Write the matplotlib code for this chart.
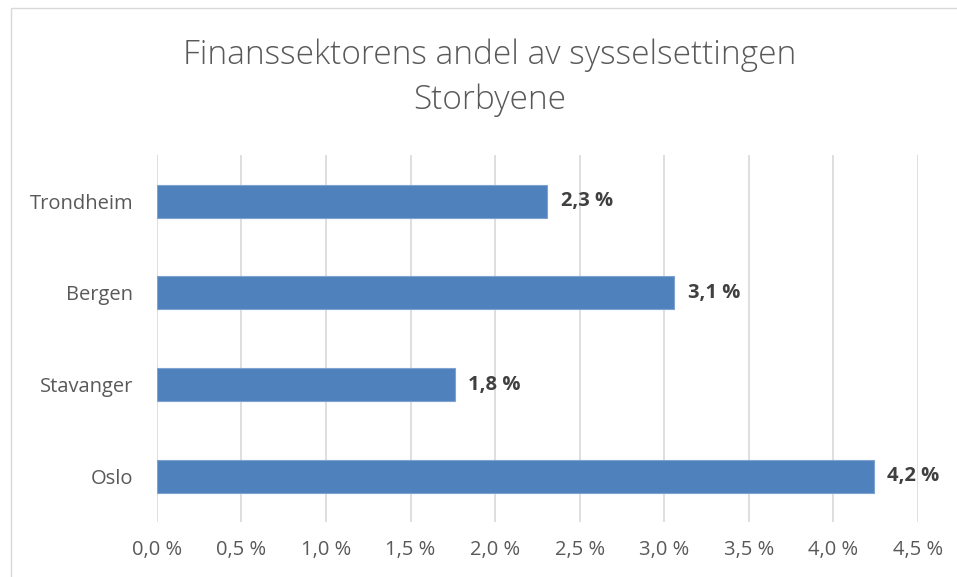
import matplotlib.pyplot as plt
from matplotlib.patches import Rectangle
from matplotlib.ticker import FuncFormatter

# data (bottom to top)
cities = ['Oslo', 'Stavanger', 'Bergen', 'Trondheim']
shares = [4.24, 1.76, 3.06, 2.31]
ticks = [0.0, 0.5, 1.0, 1.5, 2.0, 2.5, 3.0, 3.5, 4.0, 4.5]

plt.rcParams['font.family'] = ['Open Sans', 'DejaVu Sans']

fig = plt.figure(figsize=(9.57, 5.77), dpi=100)
ax = fig.add_axes([0.164, 0.095, 0.795, 0.636])

# light frame round the chart, like the Excel chart area
fig.patches.append(Rectangle((0.011, -0.01), 0.995, 0.996, transform=fig.transFigure,
                             fill=False, edgecolor='#D9D9D9', linewidth=1))

ax.barh(range(len(cities)), shares, height=0.36, color='#4F81BD',
        edgecolor='#7FA3D1', linewidth=0.8, zorder=3)

for i, v in enumerate(shares):
    ax.text(v + 0.08, i, f'{v:.1f} %'.replace('.', ','), va='center', ha='left',
            fontsize=14.5, fontweight='bold', color='#404040')

ax.set_xlim(0, 4.5)
ax.set_ylim(-0.5, 3.5)
ax.set_xticks(ticks)
ax.xaxis.set_major_formatter(FuncFormatter(lambda x, p: f'{x:.1f} %'.replace('.', ',')))
ax.set_yticks(range(len(cities)))
ax.set_yticklabels(cities)
ax.tick_params(axis='both', length=0, labelsize=14.5, colors='#595959')
ax.tick_params(axis='x', pad=13)
ax.tick_params(axis='y', pad=17)

ax.grid(axis='x', color='#D9D9D9', linewidth=1.2, zorder=0)
for s in ax.spines.values():
    s.set_visible(False)

fig.text(0.512, 0.905, 'Finanssektorens andel av sysselsettingen', ha='center', va='center',
         fontsize=24, color='#595959', fontweight='light')
fig.text(0.512, 0.826, 'Storbyene', ha='center', va='center', fontsize=24,
         color='#595959', fontweight='light')

fig.savefig('out.png', dpi=100)
